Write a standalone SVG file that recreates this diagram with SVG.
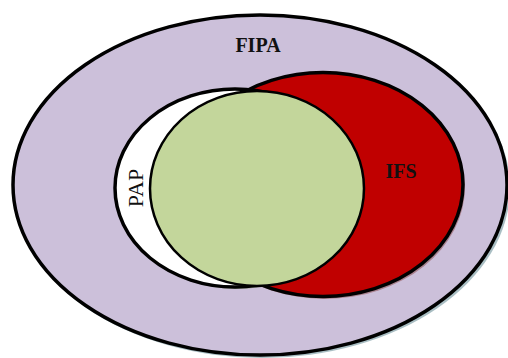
<svg xmlns="http://www.w3.org/2000/svg" width="508" height="358" viewBox="0 0 508 358">
<style>
.ring{stroke:#000;stroke-width:3.5}
.lbl{font-family:"Liberation Serif","Times New Roman",serif;font-size:20px;fill:#111;text-anchor:middle}
.b{font-weight:bold}
</style>
<rect width="508" height="358" fill="#fff"/>
<g id="FIPA">
<ellipse cx="262" cy="188" rx="248" ry="170" fill="#93AEB4" opacity="0.8"/>
<ellipse cx="260" cy="185" rx="247" ry="170" fill="#CCC0DA" class="ring"/>
<text class="lbl b" x="258" y="52">FIPA</text>
</g>
<g id="IFS">
<ellipse cx="325" cy="187" rx="140" ry="112" fill="#A0707A" opacity="0.8"/>
<ellipse cx="323" cy="184.5" rx="140" ry="112" fill="#C00000" class="ring"/>
<text class="lbl b" x="401" y="178">IFS</text>
</g>
<g id="PAP">
<ellipse cx="237" cy="190" rx="120" ry="99" fill="#8E9A80" opacity="0.7"/>
<ellipse cx="235" cy="188" rx="120" ry="99" fill="#FFFFFF" class="ring"/>
<text class="lbl" font-size="22" transform="translate(143,188) rotate(-90)" x="0" y="0" style="font-size:22px">PAP</text>
</g>
<g id="overlap">
<ellipse cx="257" cy="188.5" rx="107" ry="97.5" fill="#C3D69B" stroke="#000" stroke-width="2.5"/>
</g>
<g id="connectors"/>
</svg>
